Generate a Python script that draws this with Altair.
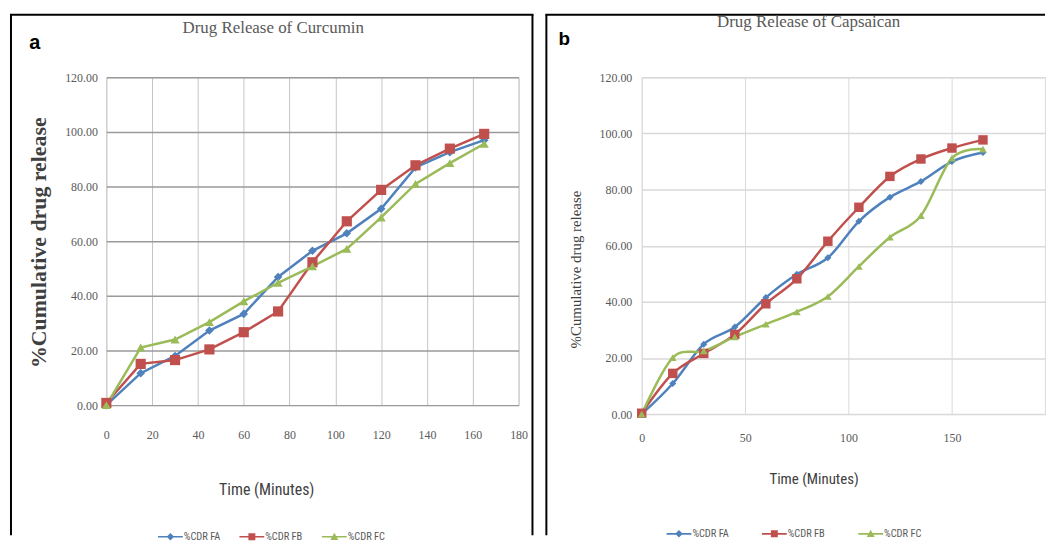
import altair as alt
import pandas as pd

# ---------------- data ----------------
time_min = [0, 15, 30, 45, 60, 75, 90, 105, 120, 135, 150, 165]
series_names = ["%CDR FA", "%CDR FB", "%CDR FC"]
series_colors = ["#4F81BD", "#C0504D", "#9BBB59"]
series_shapes = ["diamond", "square", "triangle-up"]

curcumin_fa = [0.0, 11.7, 18.0, 27.3, 33.4, 46.9, 56.5, 62.9, 71.9, 87.0, 92.6, 97.0]
curcumin_fb = [0.8, 15.1, 16.5, 20.4, 26.7, 34.3, 52.3, 67.3, 78.8, 87.8, 93.9, 99.3]
curcumin_fc = [0.0, 21.1, 24.0, 30.4, 38.0, 44.8, 50.8, 57.2, 68.7, 81.0, 88.6, 95.7]

capsaicin_fa = [0.0, 10.9, 24.9, 31.0, 41.5, 49.8, 55.7, 68.7, 77.3, 82.9, 90.0, 93.2]
capsaicin_fb = [0.3, 14.5, 21.6, 28.4, 39.3, 48.2, 61.6, 73.7, 84.7, 90.9, 94.8, 97.7]
capsaicin_fc = [0.0, 20.1, 22.5, 27.5, 32.0, 36.4, 41.9, 52.6, 63.0, 70.7, 91.2, 94.4]

panel_titles = ["Drug Release of Curcumin", "Drug Release of Capsaican"]
panel_letters = ["a", "b"]
x_title = "Time (Minutes)"
y_title = "%Cumulative drug release"
x_ticks_a = [0, 20, 40, 60, 80, 100, 120, 140, 160, 180]
x_ticks_b = [0, 50, 100, 150]
y_ticks = [0, 20, 40, 60, 80, 100, 120]


def long_df(cols, sizes):
    rows = []
    for name, shp, sz, vals in zip(series_names, series_shapes, sizes, cols):
        for t, v in zip(time_min, vals):
            rows.append({"time": t, "value": v, "series": name, "shape": shp, "msize": sz})
    return pd.DataFrame(rows)


# legend symbols: a short line plus the marker (filled subpaths)
LINE = "M-1,-0.07L1,-0.07L1,0.07L-1,0.07Z"
P_DIAMOND = LINE + "M0,-0.3L0.3,0L0,0.3L-0.3,0Z"
P_SQUARE = LINE + "M-0.28,-0.28L0.28,-0.28L0.28,0.28L-0.28,0.28Z"
P_TRI = LINE + "M0,-0.32L0.32,0.26L-0.32,0.26Z"
SYMBOL_EXPR = (
    f"datum.value === '{series_names[0]}' ? '{P_DIAMOND}' : "
    f"(datum.value === '{series_names[1]}' ? '{P_SQUARE}' : '{P_TRI}')"
)

LABEL_FONT = "Liberation Serif"
NARROW = "Liberation Sans Narrow, Roboto Condensed, Roboto, sans-serif"


def panel(df, title, letter, cfg):
    x_scale = alt.Scale(domain=[0, cfg["xmax"]], nice=False)
    y_scale = alt.Scale(domain=[0, 120], nice=False)
    color_scale = alt.Scale(domain=series_names, range=series_colors)
    legend = alt.Legend(
        orient="none",
        legendX=cfg["legx"],
        legendY=cfg["legy"],
        direction="horizontal",
        title=None,
        symbolType=alt.ExprRef(SYMBOL_EXPR),
        symbolSize=625,
        symbolStrokeWidth=0,
        symbolOpacity=1,
        labelFont=NARROW,
        labelFontSize=10.5,
        labelColor="#595959",
        labelOffset=1,
        columnPadding=cfg["colpad"],
    )
    x_axis = alt.Axis(
        values=cfg["xticks"],
        grid=True,
        gridColor=cfg["xgrid"],
        gridWidth=1,
        domain=False,
        ticks=False,
        labelFlush=False,
        labelPadding=cfg["xlabpad"],
        labelFont=LABEL_FONT,
        labelFontSize=12,
        labelColor="#595959",
        title=x_title,
        titleX=cfg["xtx"],
        titleY=cfg["xty"],
        titleBaseline="middle",
        titleFont=NARROW,
        titleFontSize=cfg["xtsize"],
        titleFontWeight="normal",
        titleColor="#404040",
    )
    y_axis = alt.Axis(
        values=y_ticks,
        format=".2f",
        grid=True,
        gridColor=cfg["ygrid"],
        gridWidth=cfg["ygridw"],
        domain=False,
        ticks=False,
        labelPadding=cfg["ylabpad"],
        labelFont=LABEL_FONT,
        labelFontSize=12,
        labelColor="#595959",
        title=y_title,
        titleX=cfg["ytx"],
        titleY=cfg["yty"],
        titleAngle=-90,
        titleBaseline="middle",
        titleFont=LABEL_FONT,
        titleFontSize=cfg["ytsize"],
        titleFontWeight=cfg["ytweight"],
        titleColor="#404040",
    )
    base = alt.Chart(df)
    lines = base.mark_line(strokeWidth=2.5, interpolate=cfg["interp"]).encode(
        x=alt.X("time:Q", scale=x_scale, axis=x_axis),
        y=alt.Y("value:Q", scale=y_scale, axis=y_axis),
        color=alt.Color("series:N", scale=color_scale, legend=legend),
    )
    points = base.mark_point(filled=True, opacity=1).encode(
        x=alt.X("time:Q", scale=x_scale, axis=x_axis),
        y=alt.Y("value:Q", scale=y_scale, axis=y_axis),
        color=alt.Color("series:N", scale=color_scale, legend=legend),
        shape=alt.Shape("shape:N", scale=None),
        size=alt.Size("msize:Q", scale=None),
    )
    one = pd.DataFrame({"k": [0]})
    border_layers = []
    for (x1, x2, y1, y2) in cfg["rules"]:
        border_layers.append(
            alt.Chart(one).mark_rule(stroke="black", strokeWidth=2).encode(
                x=alt.value(x1), x2=alt.value(x2), y=alt.value(y1), y2=alt.value(y2)
            )
        )
    title_txt = alt.Chart(pd.DataFrame({"t": [title]})).mark_text(
        font=LABEL_FONT, fontSize=17, color="#595959", align="center", baseline="alphabetic"
    ).encode(text="t:N", x=alt.value(cfg["tx"]), y=alt.value(cfg["ty"]))
    letter_txt = alt.Chart(pd.DataFrame({"t": [letter]})).mark_text(
        font="Liberation Sans", fontSize=cfg["lsize"], fontWeight="bold", color="black",
        align="center", baseline="alphabetic"
    ).encode(text="t:N", x=alt.value(cfg["lx"]), y=alt.value(cfg["ly"]))
    return alt.layer(*border_layers, lines, points, title_txt, letter_txt).properties(
        width=cfg["w"], height=cfg["h"]
    )


BOTTOM = 461
cfg_a = dict(
    xmax=180, xticks=x_ticks_a, w=415, h=330, interp="linear",
    xgrid="#c4c4c4", ygrid="#9a9a9a", ygridw=1.5,
    xlabpad=25, ylabpad=9, xtx=161, xty=85, xtsize=16,
    ytx=-68, yty=166, ytsize=22, ytweight="bold",
    legx=52, legy=450, colpad=19, sizes=[75, 105, 85],
    rules=[(-96, -96, -63, BOTTOM), (-97, 430, -63, -63), (429, 429, -63, BOTTOM)],
    tx=168, ty=-45, lx=-72, ly=-29, lsize=20,
)
cfg_b = dict(
    xmax=195, xticks=x_ticks_b, w=406, h=339, interp="cardinal",
    xgrid="#d9d9d9", ygrid="#d9d9d9", ygridw=1.5,
    xlabpad=19, ylabpad=10, xtx=173, xty=65, xtsize=15,
    ytx=-67, yty=193, ytsize=15, ytweight="normal",
    legx=25, legy=447, colpad=33, sizes=[50, 90, 60],
    rules=[(-96, -96, -63, BOTTOM), (-97, 406, -63, -63)],
    tx=168, ty=-51, lx=-78, ly=-33, lsize=19,
)

df_a = long_df([curcumin_fa, curcumin_fb, curcumin_fc], cfg_a["sizes"])
df_b = long_df([capsaicin_fa, capsaicin_fb, capsaicin_fc], cfg_b["sizes"])

chart = alt.hconcat(
    panel(df_a, panel_titles[0], panel_letters[0], cfg_a),
    panel(df_b, panel_titles[1], panel_letters[1], cfg_b),
    spacing=8,
).resolve_scale(color="independent", x="independent", y="independent").properties(
    padding={"left": 0, "top": 2, "right": 0, "bottom": 0}
).configure_view(stroke=None).configure(background="white")

chart.save("out.html", embed_options={"renderer": "svg", "actions": False})
